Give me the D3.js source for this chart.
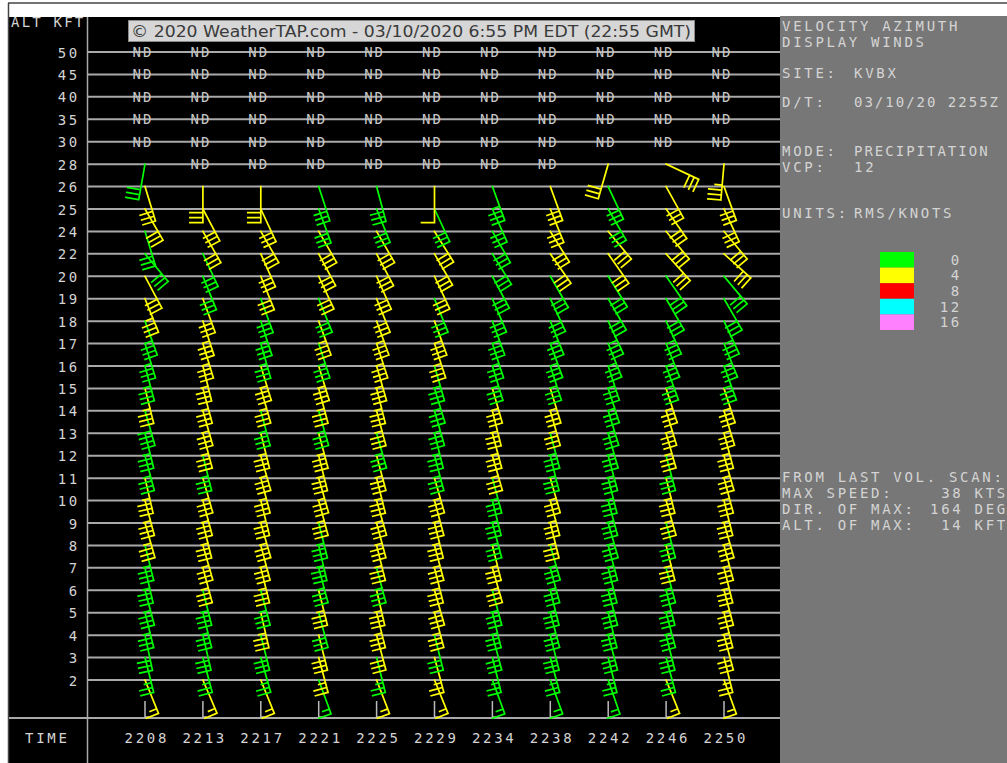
<!DOCTYPE html>
<html><head><meta charset="utf-8">
<script src="https://cdn.jsdelivr.net/npm/d3@7/dist/d3.min.js"></script>
<style>body{margin:0;background:#fff;overflow:hidden}svg{display:block}</style>
</head><body>
<svg id="c" width="1007" height="763"></svg>
<script>
// ---------- data ----------
const times = ["2208","2213","2217","2221","2225","2229","2234","2238","2242","2246","2250"];
const altTicks = ["50","45","40","35","30","28","26","25","24","22","20","19","18","17","16","15","14","13","12","11","10","9","8","7","6","5","4","3","2"];
const windLevels = [2,3,4,5,6,7,8,9,10,11,12,13,14,15,16,17,18,19,20,22,24,25,26,28];
const ndLevels = ["50","45","40","35","30"];
const legendBreaks = ["0","4","8","12","16"];
const legendColors = ["#00ff00","#ffff00","#ff0000","#00ffff","#ff80ff"];

// direction (deg, from) per time, levels as in windLevels; null = ND
const dir_2208 = [158,166,168,166,165,167,166,164,165,167,165,166,164,166,165,163,160,158,152,140,163,150,163,190];
const dir_2213 = [157,165,167,166,166,165,164,166,165,164,166,165,164,165,166,163,162,160,158,155,150,152,180,null];
const dir_2217 = [158,164,166,167,165,166,165,164,166,165,164,166,165,164,163,164,162,160,158,156,150,155,180,null];
const dir_2221 = [160,165,166,165,166,165,167,166,165,164,166,165,164,165,163,162,160,158,155,152,150,160,162,null];
const dir_2225 = [159,166,165,166,167,165,166,165,164,166,165,164,165,166,164,162,160,158,156,152,150,158,165,null];
const dir_2229 = [158,165,166,165,164,166,165,166,165,164,165,166,164,163,164,162,160,158,155,150,148,155,180,null];
const dir_2234 = [160,166,165,166,165,164,166,165,166,165,164,165,166,164,163,162,160,157,152,148,150,156,160,null];
const dir_2238 = [160,165,166,165,166,165,164,166,165,164,166,165,164,163,162,160,158,155,150,145,148,158,160,null];
const dir_2242 = [161,166,165,166,165,166,165,164,165,166,165,164,163,162,162,158,155,150,148,145,140,150,155,196];
const dir_2246 = [158,165,166,165,166,165,166,165,164,166,165,164,163,162,160,158,155,150,145,138,140,145,151,115];
const dir_2250 = [160,166,165,166,165,166,165,164,166,165,164,165,163,162,160,158,155,150,140,132,140,155,160,185];

// speed (kts)
const spd_2208 = [15,25,30,35,35,35,35,35,35,35,35,35,38,35,35,35,35,35,30,30,30,30,30,30];
const spd_2213 = [15,25,30,35,35,35,35,35,35,35,35,35,35,35,35,35,35,30,30,30,30,30,30,null];
const spd_2217 = [15,25,30,35,35,35,35,35,35,35,35,35,35,35,35,35,35,30,30,30,30,30,30,null];
const spd_2221 = [15,25,30,30,35,35,35,35,35,35,35,35,35,35,35,35,35,30,30,30,30,30,30,null];
const spd_2225 = [15,25,30,35,35,35,35,35,35,35,35,35,35,35,35,35,35,30,30,30,30,30,30,null];
const spd_2229 = [15,25,30,35,35,35,35,35,35,35,35,35,35,35,35,35,35,30,30,30,30,30,10,null];
const spd_2234 = [15,25,30,35,35,35,35,35,35,35,35,35,35,35,35,35,35,30,30,30,30,30,35,null];
const spd_2238 = [15,25,30,35,35,35,35,35,35,35,35,35,35,35,35,35,35,30,30,30,30,30,30,null];
const spd_2242 = [15,25,30,35,35,35,35,35,35,35,35,35,35,35,35,35,35,30,30,30,30,30,30,30];
const spd_2246 = [15,25,30,35,35,35,35,35,35,35,35,35,35,35,35,35,35,30,30,30,30,30,30,30];
const spd_2250 = [15,25,30,35,35,35,35,35,35,35,35,35,35,35,35,35,35,30,30,30,30,30,30,35];

// RMS (kts)
const rms_2208 = [6,2,2,2,2,2,2,6,6,6,2,2,2,6,2,2,2,6,6,2,2,6,6,2];
const rms_2213 = [6,2,2,2,2,6,6,6,6,6,2,6,6,6,6,6,6,6,2,2,6,6,6,null];
const rms_2217 = [6,2,2,6,2,6,6,6,6,6,6,6,2,6,6,2,2,2,6,6,6,6,6,null];
const rms_2221 = [2,6,6,2,6,2,2,2,6,6,6,6,2,6,6,2,6,2,6,6,6,2,2,null];
const rms_2225 = [6,2,6,6,6,2,6,6,6,6,6,2,6,6,6,6,6,6,6,6,6,2,2,null];
const rms_2229 = [6,6,2,6,6,6,6,6,6,6,2,2,2,2,2,6,6,2,6,6,6,2,6,null];
const rms_2234 = [2,2,2,2,2,6,6,2,2,2,6,6,6,6,2,2,2,2,2,2,2,2,2,null];
const rms_2238 = [2,2,2,2,2,2,2,6,6,6,2,2,6,6,2,2,2,2,2,6,6,6,6,null];
const rms_2242 = [2,2,2,2,2,2,2,2,2,2,2,2,2,2,2,2,2,2,2,6,6,2,2,6];
const rms_2246 = [6,2,2,2,2,2,6,2,6,6,2,6,6,6,2,2,2,2,2,6,6,6,6,6];
const rms_2250 = [6,6,6,6,6,6,6,6,6,6,6,6,6,6,2,2,2,2,2,6,6,6,6,6];

const dirs = [dir_2208,dir_2213,dir_2217,dir_2221,dir_2225,dir_2229,dir_2234,dir_2238,dir_2242,dir_2246,dir_2250];
const spds = [spd_2208,spd_2213,spd_2217,spd_2221,spd_2225,spd_2229,spd_2234,spd_2238,spd_2242,spd_2246,spd_2250];
const rmss = [rms_2208,rms_2213,rms_2217,rms_2221,rms_2225,rms_2229,rms_2234,rms_2238,rms_2242,rms_2246,rms_2250];

const rightPanelTop = [
  ["VELOCITY AZIMUTH", null, 31],
  ["DISPLAY WINDS", null, 47],
  ["SITE:", "KVBX", 78],
  ["D/T:", "03/10/20 2255Z", 107],
  ["MODE:", "PRECIPITATION", 156],
  ["VCP:", "12", 172],
  ["UNITS:", "RMS/KNOTS", 218]
];
const rightPanelBottom = [
  ["FROM LAST VOL. SCAN:", null, 482],
  ["MAX SPEED:", "38 KTS", 498],
  ["DIR. OF MAX:", "164 DEG", 514],
  ["ALT. OF MAX:", "14 KFT", 530]
];
const titleText = "\u00A9 2020 WeatherTAP.com - 03/10/2020 6:55 PM EDT (22:55 GMT)";

// ---------- build table ----------
const winds = [];
times.forEach((t,i)=>{
  windLevels.forEach((lv,j)=>{
    if (dirs[i][j] != null) winds.push({time:t, level:String(lv), dir:dirs[i][j], spd:spds[i][j], rms:rmss[i][j]});
  });
});
const ndCells = [];
times.forEach((t,i)=>{
  ndLevels.forEach(lv=>ndCells.push({time:t, level:lv}));
  if (dirs[i][windLevels.indexOf(28)] == null) ndCells.push({time:t, level:"28"});
});

// ---------- drawing ----------
const svg = d3.select("#c");
const MONO = "'DejaVu Sans Mono', monospace";
const txtCol = "#d4d4d4";
const gridCol = "#a9a9a9";

svg.append("rect").attr("x",0).attr("y",0).attr("width",1007).attr("height",763).attr("fill","#fff");
svg.append("rect").attr("x",9).attr("y",17).attr("width",771).attr("height",746).attr("fill","#000");
svg.append("rect").attr("x",780).attr("y",16).attr("width",227).attr("height",747).attr("fill","#777777");
svg.append("line").attr("x1",8).attr("x2",1007).attr("y1",3).attr("y2",3).attr("stroke","#444").attr("stroke-width",1.5);
svg.append("line").attr("x1",8.5).attr("x2",8.5).attr("y1",3).attr("y2",763).attr("stroke","#444").attr("stroke-width",1.5);

const x = d3.scalePoint().domain(times).range([145, 724]);
const y = d3.scalePoint().domain(altTicks).range([52, 680]);
const color = d3.scaleThreshold().domain([4,8,12,16]).range(legendColors);

svg.append("line").attr("x1",87.5).attr("x2",87.5).attr("y1",17).attr("y2",763).attr("stroke",gridCol).attr("stroke-width",1.5);
svg.append("line").attr("x1",9).attr("x2",780).attr("y1",718).attr("y2",718).attr("stroke",gridCol).attr("stroke-width",2);

svg.append("g").selectAll("line").data(altTicks).join("line")
  .attr("x1",88).attr("x2",780).attr("y1",d=>y(d)).attr("y2",d=>y(d))
  .attr("stroke",gridCol).attr("stroke-width",2);

const yAxis = d3.axisLeft(y).tickSize(0).tickPadding(0);
const gy = svg.append("g").attr("transform","translate(80,0)").call(yAxis);
gy.select(".domain").remove();
gy.selectAll("text").attr("font-family",MONO).attr("font-size",14).attr("fill",txtCol)
  .attr("dy","0.36em").style("letter-spacing","2.7px");

svg.append("text").attr("x",11).attr("y",27).text("ALT KFT")
  .attr("font-family",MONO).attr("font-size",14).attr("fill",txtCol).style("letter-spacing","2.2px");

const xAxis = d3.axisBottom(x).tickSize(0).tickPadding(0);
const gx = svg.append("g").attr("transform","translate(0,733)").call(xAxis);
gx.select(".domain").remove();
gx.selectAll("text").attr("font-family",MONO).attr("font-size",14).attr("fill",txtCol)
  .attr("dy","0.71em").attr("dx","1.3px").style("letter-spacing","2.7px");
svg.append("text").attr("x",25).attr("y",743).text("TIME")
  .attr("font-family",MONO).attr("font-size",14).attr("fill",txtCol).style("letter-spacing","2.7px");

svg.append("g").selectAll("text").data(ndCells).join("text")
  .attr("x",d=>x(d.time)-2).attr("y",d=>y(d.level)+5)
  .attr("text-anchor","middle").text("ND")
  .attr("font-family",MONO).attr("font-size",14).attr("fill","#c8c8c8").style("letter-spacing","2px");

svg.append("g").selectAll("path").data(times).join("path")
  .attr("d",t=>`M${x(t)},701V717H${x(t)+4}`)
  .attr("fill","none").attr("stroke","#bbbbbb").attr("stroke-width",1.5);

function barbPath(d){
  const sx = x(d.time), sy = y(d.level);
  const a = d.dir*Math.PI/180;
  const ux = Math.sin(a), uy = -Math.cos(a);
  const L = 36;
  const tx = sx+ux*L, ty = sy+uy*L;
  const px = -uy, py = ux;
  let p = `M${sx},${sy}L${tx},${ty}`;
  const s = Math.round(d.spd/5)*5;
  const full = Math.floor(s/10), half = (s%10)>=5;
  for (let k=0;k<full;k++){
    const bx = tx-ux*5*k, by = ty-uy*5*k;
    p += `M${bx},${by}l${px*13},${py*13}`;
  }
  if (half){
    const k = full;
    const bx = tx-ux*5*k, by = ty-uy*5*k;
    p += `M${bx},${by}l${px*7},${py*7}`;
  }
  return p;
}
svg.append("g").selectAll("path").data(winds).join("path")
  .attr("d",barbPath).attr("fill","none")
  .attr("stroke",d=>color(d.rms)).attr("stroke-width",1.7).attr("stroke-linecap","square");

svg.append("rect").attr("x",128.5).attr("y",20.5).attr("width",566).attr("height",21)
  .attr("fill","#d6d6d6").attr("stroke","#8a8a8a").attr("stroke-width",1);
svg.append("text").attr("x",131).attr("y",37).text(titleText)
  .attr("font-family","'DejaVu Sans', Verdana, sans-serif").attr("font-size",15).attr("fill","#3a3a3a")
  .attr("textLength",560).attr("lengthAdjust","spacingAndGlyphs");

function panelRows(rows){
  rows.forEach(([a,b,yy])=>{
    svg.append("text").attr("x",782).attr("y",yy).text(a)
      .attr("font-family",MONO).attr("font-size",14).attr("fill",txtCol).style("letter-spacing","2.7px");
    if (b){
      const right = yy>400;
      const ls = (b.length>12) ? "2.0px" : "2.7px";
      svg.append("text").attr("x",right?1008:854).attr("y",yy).text(b)
        .attr("text-anchor",right?"end":"start")
        .attr("font-family",MONO).attr("font-size",14).attr("fill",txtCol).style("letter-spacing",ls);
    }
  });
}
panelRows(rightPanelTop);
panelRows(rightPanelBottom);

const ly = d3.scaleBand().domain(legendBreaks).range([252, 330]).padding(0);
svg.append("g").selectAll("rect").data(legendBreaks).join("rect")
  .attr("x",880).attr("y",d=>ly(d)).attr("width",34).attr("height",ly.bandwidth())
  .attr("fill",(d,i)=>legendColors[i]);
svg.append("g").selectAll("text").data(legendBreaks).join("text")
  .attr("x",962).attr("y",d=>ly(d)+ly.bandwidth()/2+5).attr("text-anchor","end").text(d=>d)
  .attr("font-family",MONO).attr("font-size",14).attr("fill",txtCol).style("letter-spacing","2.7px");
</script>
</body></html>
